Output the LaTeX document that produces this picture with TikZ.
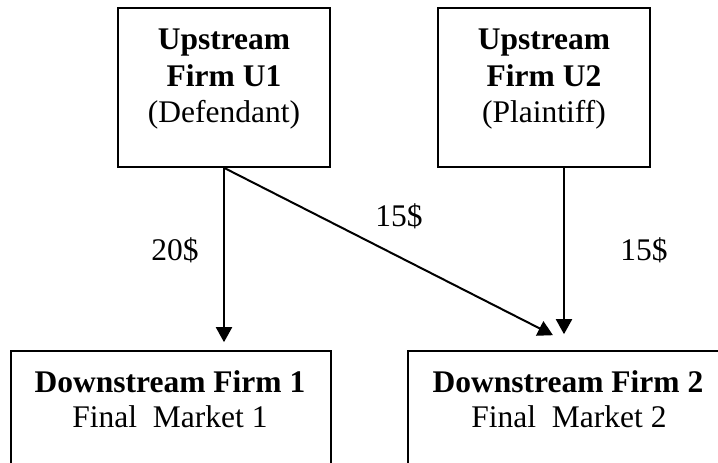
\documentclass[tikz,border=0pt]{standalone}
\usepackage{fontspec}
\setmainfont{Liberation Serif}
\usetikzlibrary{arrows.meta}
\begin{document}
\begin{tikzpicture}[x=1pt,y=-1pt,
  box/.style={draw,line width=1.6pt,inner sep=0pt,rectangle},
  txt/.style={anchor=base,inner sep=0pt,font=\fontsize{31.5}{36}\selectfont},
  btxt/.style={anchor=base,inner sep=0pt,font=\fontsize{31.5}{36}\selectfont\bfseries},
  arr/.style={line width=2pt,-{Triangle[length=15pt,width=16pt]}}]
\useasboundingbox (0,0) rectangle (718,463);
\clip (0,0) rectangle (718,463);
\fill[white] (0,0) rectangle (718,463);
% boxes
\node[box,minimum width=212pt,minimum height=159pt] (u1) at (224,87.5) {};
\node[box,minimum width=212pt,minimum height=159pt] (u2) at (544,87.5) {};
\node[box,minimum width=320pt,minimum height=200pt] (d1) at (171,451) {};
\node[box,minimum width=320pt,minimum height=200pt] (d2) at (568,451) {};
% texts
\node[btxt] (u1a) at (224,49) {Upstream};
\node[btxt] (u1b) at (224,86) {Firm U1};
\node[txt]  (u1c) at (224,122) {(Defendant)};
\node[btxt] (u2a) at (544,49) {Upstream};
\node[btxt] (u2b) at (544,86) {Firm U2};
\node[txt]  (u2c) at (544,122) {(Plaintiff)};
\node[btxt] (d1a) at (170,392) {Downstream Firm 1};
\node[txt]  (d1b) at (170,427) {Final\ \ Market 1};
\node[btxt] (d2a) at (568,392) {Downstream Firm 2};
\node[txt]  (d2b) at (569,427) {Final\ \ Market 2};
% connectors
\coordinate (dtip) at ([shift={(-15,-15)}]d2.north);
\coordinate (u2out) at ([xshift=20pt]u2.south);
\draw[arr,shorten >=8pt] (u1.south) -- (u1.south |- d1.north);
\draw[arr] (u1.south) -- (dtip);
\draw[arr,shorten >=16pt] (u2out) -- (u2out |- d2.north);
% labels
\node[txt] (l20) at (175,260) {20\$};
\node[txt] (l15a) at (399,226) {15\$};
\node[txt] (l15b) at (644,260) {15\$};
\end{tikzpicture}
\end{document}
